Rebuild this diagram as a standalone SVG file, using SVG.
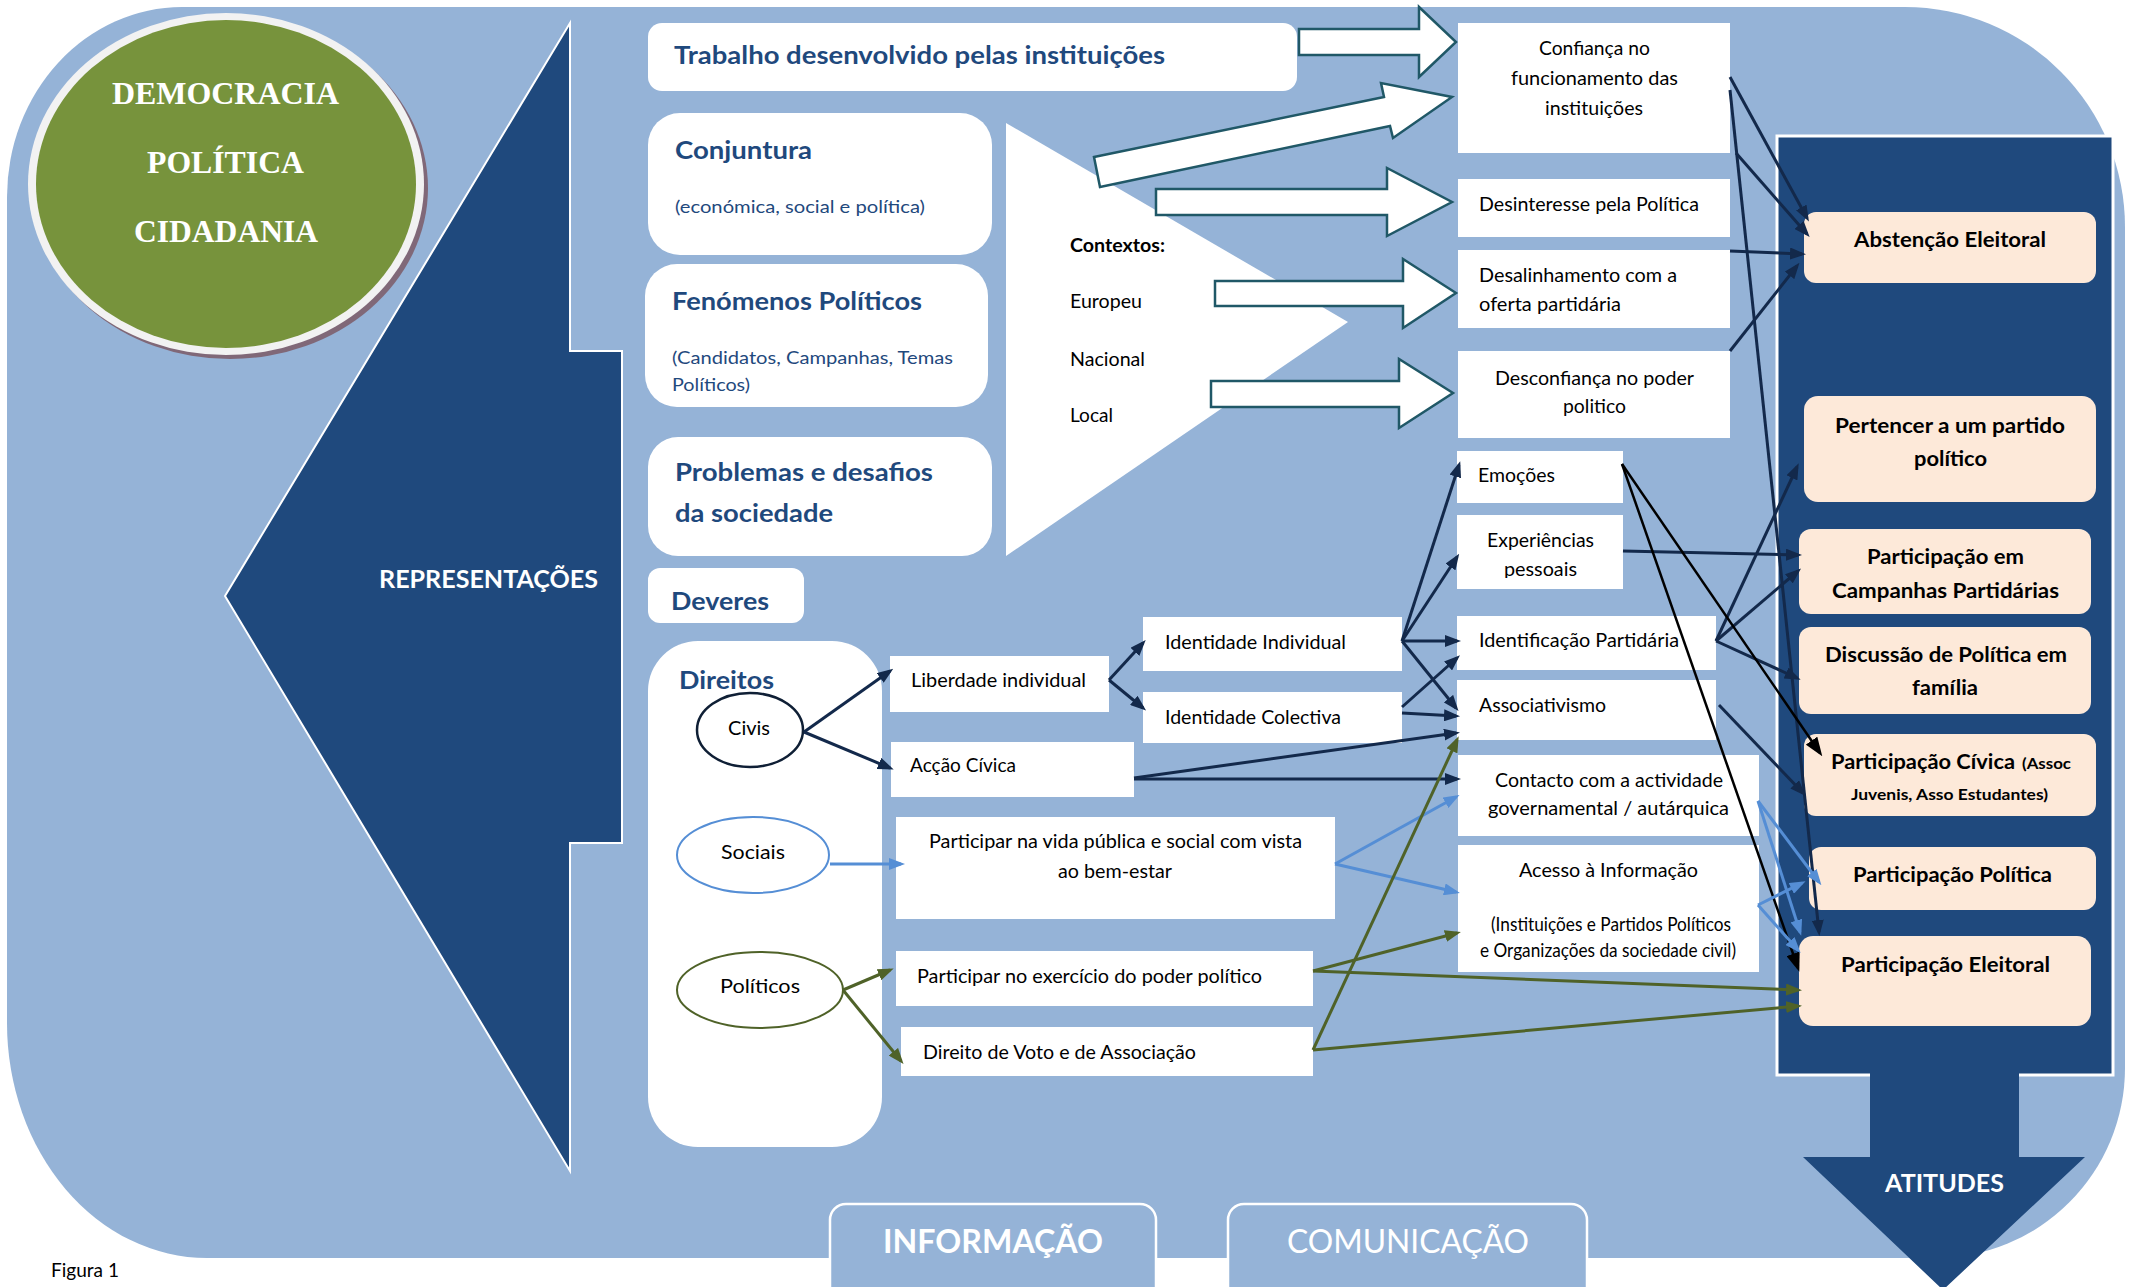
<svg xmlns="http://www.w3.org/2000/svg" width="2140" height="1287" viewBox="0 0 2140 1287">
<defs>
<style>
.f{font-family:Lato,"Liberation Sans",sans-serif}
.r{font-family:Lato,"Liberation Sans",sans-serif;font-size:19px;fill:#000}
.ttl{font-family:Lato,"Liberation Sans",sans-serif;font-size:25px;font-weight:bold;fill:#1F497D}
.sub{font-family:Lato,"Liberation Sans",sans-serif;font-size:18px;fill:#1F497D}
.pb{font-family:Lato,"Liberation Sans",sans-serif;font-size:21px;font-weight:bold;fill:#000}
.ps{font-family:Lato,"Liberation Sans",sans-serif;font-size:16px;font-weight:bold;fill:#000}
.wb{fill:#fff}
.peach{fill:#FDE9D9}
.blk{fill:#fff;stroke:#205867;stroke-width:2.5;stroke-linejoin:miter}
.cn{fill:none;stroke:#13294B;stroke-width:3;marker-end:url(#mN)}
.ck{fill:none;stroke:#000;stroke-width:2.5;marker-end:url(#mK)}
.cb{fill:none;stroke:#558ED5;stroke-width:3;marker-end:url(#mB)}
.co{fill:none;stroke:#4F6228;stroke-width:3;marker-end:url(#mO)}
.serif{font-family:"Liberation Serif",serif;font-size:32px;font-weight:bold;fill:#fff}
</style>
<marker id="mN" markerWidth="16" markerHeight="12" refX="12" refY="6" orient="auto" markerUnits="userSpaceOnUse"><path d="M0,0 L16,6 L0,12 Z" fill="#13294B"/></marker>
<marker id="mK" markerWidth="19" markerHeight="14" refX="15" refY="7" orient="auto" markerUnits="userSpaceOnUse"><path d="M0,0 L19,7 L0,14 Z" fill="#000"/></marker>
<marker id="mB" markerWidth="16" markerHeight="12" refX="12" refY="6" orient="auto" markerUnits="userSpaceOnUse"><path d="M0,0 L16,6 L0,12 Z" fill="#558ED5"/></marker>
<marker id="mO" markerWidth="16" markerHeight="12" refX="12" refY="6" orient="auto" markerUnits="userSpaceOnUse"><path d="M0,0 L16,6 L0,12 Z" fill="#4F6228"/></marker>
<clipPath id="clipExp"><rect x="1457" y="515" width="166" height="63"/></clipPath>
</defs>

<rect x="0" y="0" width="2140" height="1287" fill="#fff"/>

<g id="background">
<path d="M182,7 H1905 A220,220 0 0 1 2125,227 V1068 A190,190 0 0 1 1935,1258 H207 A200,235 0 0 1 7,1023 V197 A175,190 0 0 1 182,7 Z" fill="#95B3D7"/>
</g>

<g id="circle">
<ellipse cx="230" cy="188" rx="198" ry="171" fill="#806878"/>
<ellipse cx="226" cy="184" rx="198" ry="171" fill="#F2F2F2"/>
<ellipse cx="226" cy="184" rx="190" ry="164" fill="#77933C"/>
<text class="serif" x="112" y="104" textLength="227" lengthAdjust="spacingAndGlyphs">DEMOCRACIA</text>
<text class="serif" x="147" y="173" textLength="157" lengthAdjust="spacingAndGlyphs">POLÍTICA</text>
<text class="serif" x="134" y="242" textLength="184" lengthAdjust="spacingAndGlyphs">CIDADANIA</text>
</g>

<g id="representacoes">
<polygon points="225,596 570,23 570,351 622,351 622,843 570,843 570,1171" fill="#1F497D" stroke="#fff" stroke-width="2"/>
<text class="f" x="379" y="588" font-size="25" font-weight="bold" fill="#fff" textLength="219" lengthAdjust="spacingAndGlyphs">REPRESENTAÇÕES</text>
</g>

<g id="contextos">
<polygon points="1006,123 1348,322 1006,556" fill="#fff"/>
<text class="r" x="1070" y="252" font-weight="bold" textLength="95" lengthAdjust="spacingAndGlyphs">Contextos:</text>
<text class="r" x="1070" y="308" textLength="72" lengthAdjust="spacingAndGlyphs">Europeu</text>
<text class="r" x="1070" y="366" textLength="75" lengthAdjust="spacingAndGlyphs">Nacional</text>
<text class="r" x="1070" y="422" textLength="43" lengthAdjust="spacingAndGlyphs">Local</text>
</g>

<g id="trabalho">
<rect x="648" y="23" width="649" height="68" rx="14" class="wb"/>
<text class="ttl" x="674" y="64" textLength="491" lengthAdjust="spacingAndGlyphs">Trabalho desenvolvido pelas instituições</text>
</g>
<g id="conjuntura">
<rect x="648" y="113" width="344" height="142" rx="32" class="wb"/>
<text class="ttl" x="675" y="159" textLength="137" lengthAdjust="spacingAndGlyphs">Conjuntura</text>
<text class="sub" x="675" y="213" textLength="250" lengthAdjust="spacingAndGlyphs">(económica, social e política)</text>
</g>
<g id="fenomenos">
<rect x="645" y="264" width="343" height="143" rx="32" class="wb"/>
<text class="ttl" x="672" y="310" textLength="250" lengthAdjust="spacingAndGlyphs">Fenómenos Políticos</text>
<text class="sub" x="672" y="364" font-size="19" textLength="281" lengthAdjust="spacingAndGlyphs">(Candidatos, Campanhas, Temas</text>
<text class="sub" x="672" y="391" font-size="19" textLength="78" lengthAdjust="spacingAndGlyphs">Políticos)</text>
</g>
<g id="problemas">
<rect x="648" y="437" width="344" height="119" rx="30" class="wb"/>
<text class="ttl" x="675" y="481" textLength="258" lengthAdjust="spacingAndGlyphs">Problemas e desafios</text>
<text class="ttl" x="675" y="522" textLength="158" lengthAdjust="spacingAndGlyphs">da sociedade</text>
</g>
<g id="deveres">
<rect x="648" y="568" width="156" height="55" rx="12" class="wb"/>
<text class="ttl" x="671" y="610" textLength="98" lengthAdjust="spacingAndGlyphs">Deveres</text>
</g>
<g id="direitos">
<rect x="648" y="641" width="234" height="506" rx="50" class="wb"/>
<text class="ttl" x="679" y="689" textLength="95" lengthAdjust="spacingAndGlyphs">Direitos</text>
</g>
<g id="civis">
<ellipse cx="750" cy="730" rx="53" ry="37" fill="#fff" stroke="#0F1F35" stroke-width="2.5"/>
<text class="r" x="728" y="735" font-size="20" textLength="42" lengthAdjust="spacingAndGlyphs">Civis</text>
</g>
<g id="sociais">
<ellipse cx="753" cy="855" rx="76" ry="38" fill="#fff" stroke="#558ED5" stroke-width="2"/>
<text class="r" x="721" y="859" font-size="20" textLength="64" lengthAdjust="spacingAndGlyphs">Sociais</text>
</g>
<g id="politicos">
<ellipse cx="760" cy="990" rx="83" ry="38" fill="#fff" stroke="#4F6228" stroke-width="2"/>
<text class="r" x="720" y="993" font-size="20" textLength="80" lengthAdjust="spacingAndGlyphs">Políticos</text>
</g>

<g id="liberdade">
<rect x="890" y="656" width="219" height="56" class="wb"/>
<text class="r" x="911" y="687" textLength="175" lengthAdjust="spacingAndGlyphs">Liberdade individual</text>
</g>
<g id="id-individual">
<rect x="1143" y="617" width="259" height="54" class="wb"/>
<text class="r" x="1165" y="649" textLength="181" lengthAdjust="spacingAndGlyphs">Identidade Individual</text>
</g>
<g id="id-colectiva">
<rect x="1143" y="692" width="259" height="51" class="wb"/>
<text class="r" x="1165" y="724" textLength="176" lengthAdjust="spacingAndGlyphs">Identidade Colectiva</text>
</g>
<g id="accao-civica">
<rect x="891" y="742" width="243" height="55" class="wb"/>
<text class="r" x="910" y="772" textLength="106" lengthAdjust="spacingAndGlyphs">Acção Cívica</text>
</g>
<g id="vida-publica">
<rect x="896" y="817" width="439" height="102" class="wb"/>
<text class="r" x="929" y="848" textLength="373" lengthAdjust="spacingAndGlyphs">Participar na vida pública e social com vista</text>
<text class="r" x="1058" y="878" textLength="114" lengthAdjust="spacingAndGlyphs">ao bem-estar</text>
</g>
<g id="exercicio">
<rect x="896" y="951" width="417" height="55" class="wb"/>
<text class="r" x="917" y="983" textLength="345" lengthAdjust="spacingAndGlyphs">Participar no exercício do poder político</text>
</g>
<g id="voto">
<rect x="901" y="1027" width="412" height="49" class="wb"/>
<text class="r" x="923" y="1059" textLength="273" lengthAdjust="spacingAndGlyphs">Direito de Voto e de Associação</text>
</g>

<g id="block-arrows">
<polygon class="blk" points="1299,29 1419,29 1419,7 1456,42 1419,77 1419,55 1299,55"/>
<polygon class="blk" points="1094,157 1384,97 1381,83 1452,97 1393,138 1390,126 1100,187"/>
<polygon class="blk" points="1156,189 1387,189 1387,168 1452,202 1387,236 1387,215 1156,215"/>
<polygon class="blk" points="1215,281 1403,281 1403,259 1456,293 1403,328 1403,306 1215,306"/>
<polygon class="blk" points="1211,381 1399,381 1399,359 1453,393 1399,428 1399,407 1211,407"/>
</g>

<g id="confianca">
<rect x="1458" y="23" width="272" height="130" class="wb"/>
<text class="r" x="1539" y="55" textLength="111" lengthAdjust="spacingAndGlyphs">Confiança no</text>
<text class="r" x="1511" y="85" textLength="167" lengthAdjust="spacingAndGlyphs">funcionamento das</text>
<text class="r" x="1545" y="115" textLength="98" lengthAdjust="spacingAndGlyphs">instituições</text>
</g>
<g id="desinteresse">
<rect x="1458" y="179" width="272" height="58" class="wb"/>
<text class="r" x="1479" y="211" textLength="220" lengthAdjust="spacingAndGlyphs">Desinteresse pela Política</text>
</g>
<g id="desalinhamento">
<rect x="1458" y="250" width="272" height="78" class="wb"/>
<text class="r" x="1479" y="282" textLength="198" lengthAdjust="spacingAndGlyphs">Desalinhamento com a</text>
<text class="r" x="1479" y="311" textLength="142" lengthAdjust="spacingAndGlyphs">oferta partidária</text>
</g>
<g id="desconfianca">
<rect x="1458" y="351" width="272" height="87" class="wb"/>
<text class="r" x="1495" y="385" textLength="199" lengthAdjust="spacingAndGlyphs">Desconfiança no poder</text>
<text class="r" x="1563" y="413" textLength="63" lengthAdjust="spacingAndGlyphs">politico</text>
</g>
<g id="emocoes">
<rect x="1457" y="451" width="166" height="52" class="wb"/>
<text class="r" x="1478" y="482" textLength="77" lengthAdjust="spacingAndGlyphs">Emoções</text>
</g>
<g id="experiencias">
<rect x="1457" y="515" width="166" height="74" class="wb"/>
<text class="r" x="1487" y="547" textLength="107" lengthAdjust="spacingAndGlyphs">Experiências</text>
<text class="r" x="1504" y="576" textLength="73" lengthAdjust="spacingAndGlyphs" clip-path="url(#clipExp)">pessoais</text>
</g>
<g id="identificacao">
<rect x="1457" y="616" width="259" height="54" class="wb"/>
<text class="r" x="1479" y="647" textLength="200" lengthAdjust="spacingAndGlyphs">Identificação Partidária</text>
</g>
<g id="associativismo">
<rect x="1457" y="680" width="259" height="60" class="wb"/>
<text class="r" x="1479" y="712" textLength="127" lengthAdjust="spacingAndGlyphs">Associativismo</text>
</g>
<g id="contacto">
<rect x="1458" y="755" width="301" height="81" class="wb"/>
<text class="r" x="1495" y="787" textLength="228" lengthAdjust="spacingAndGlyphs">Contacto com a actividade</text>
<text class="r" x="1488" y="815" textLength="241" lengthAdjust="spacingAndGlyphs">governamental / autárquica</text>
</g>
<g id="acesso">
<rect x="1458" y="845" width="301" height="127" class="wb"/>
<text class="r" x="1519" y="877" textLength="179" lengthAdjust="spacingAndGlyphs">Acesso à Informação</text>
<text class="r" x="1491" y="931" font-size="16" textLength="240" lengthAdjust="spacingAndGlyphs">(Instituições e Partidos Políticos</text>
<text class="r" x="1480" y="957" font-size="16" textLength="256" lengthAdjust="spacingAndGlyphs">e Organizações da sociedade civil)</text>
</g>

<g id="atitudes">
<rect x="1777" y="136" width="336" height="939" fill="#1F497D" stroke="#fff" stroke-width="3"/>
<polygon points="1870,1073 2019,1073 2019,1157 2085,1157 1943,1290 1803,1157 1870,1157" fill="#1F497D"/>
<text class="f" x="1885" y="1192" font-size="24" font-weight="bold" fill="#fff" textLength="119" lengthAdjust="spacingAndGlyphs">ATITUDES</text>
</g>
<g id="abstencao">
<rect x="1804" y="212" width="292" height="71" rx="12" class="peach"/>
<text class="pb" x="1854" y="247" textLength="192" lengthAdjust="spacingAndGlyphs">Abstenção Eleitoral</text>
</g>
<g id="pertencer">
<rect x="1804" y="396" width="292" height="106" rx="14" class="peach"/>
<text class="pb" x="1835" y="433" textLength="230" lengthAdjust="spacingAndGlyphs">Pertencer a um partido</text>
<text class="pb" x="1914" y="466" textLength="73" lengthAdjust="spacingAndGlyphs">político</text>
</g>
<g id="campanhas">
<rect x="1799" y="529" width="292" height="85" rx="12" class="peach"/>
<text class="pb" x="1867" y="564" textLength="157" lengthAdjust="spacingAndGlyphs">Participação em</text>
<text class="pb" x="1832" y="598" textLength="227" lengthAdjust="spacingAndGlyphs">Campanhas Partidárias</text>
</g>
<g id="discussao">
<rect x="1799" y="627" width="292" height="87" rx="12" class="peach"/>
<text class="pb" x="1825" y="662" textLength="242" lengthAdjust="spacingAndGlyphs">Discussão de Política em</text>
<text class="pb" x="1912" y="695" textLength="66" lengthAdjust="spacingAndGlyphs">família</text>
</g>
<g id="civica">
<rect x="1804" y="734" width="292" height="82" rx="12" class="peach"/>
<text class="pb" x="1831" y="769" textLength="184" lengthAdjust="spacingAndGlyphs">Participação Cívica</text>
<text class="ps" x="2022" y="769" textLength="49" lengthAdjust="spacingAndGlyphs">(Assoc</text>
<text class="ps" x="1851" y="800" textLength="197" lengthAdjust="spacingAndGlyphs">Juvenis, Asso Estudantes)</text>
</g>
<g id="politica">
<rect x="1809" y="847" width="287" height="63" rx="12" class="peach"/>
<text class="pb" x="1853" y="882" textLength="199" lengthAdjust="spacingAndGlyphs">Participação Política</text>
</g>
<g id="eleitoral">
<rect x="1799" y="936" width="292" height="90" rx="14" class="peach"/>
<text class="pb" x="1841" y="972" textLength="209" lengthAdjust="spacingAndGlyphs">Participação Eleitoral</text>
</g>

<g id="informacao">
<rect x="830" y="1204" width="326" height="100" rx="16" fill="#95B3D7" stroke="#fff" stroke-width="2.5"/>
<text class="f" x="883" y="1253" font-size="32" font-weight="bold" fill="#fff" textLength="220" lengthAdjust="spacingAndGlyphs">INFORMAÇÃO</text>
</g>
<g id="comunicacao">
<rect x="1228" y="1204" width="359" height="100" rx="16" fill="#95B3D7" stroke="#fff" stroke-width="2.5"/>
<text class="f" x="1287" y="1253" font-size="32" fill="#fff" textLength="242" lengthAdjust="spacingAndGlyphs">COMUNICAÇÃO</text>
</g>

<g id="caption">
<text class="r" x="51" y="1277" font-size="17" textLength="68" lengthAdjust="spacingAndGlyphs">Figura 1</text>
</g>

<g id="connectors">
<path class="cn" d="M804,732 L890,671"/>
<path class="cn" d="M804,732 L890,768"/>
<path class="cn" d="M1109,680 L1143,643"/>
<path class="cn" d="M1109,680 L1143,708"/>
<path class="cn" d="M1402,641 L1459,465"/>
<path class="cn" d="M1402,641 L1457,557"/>
<path class="cn" d="M1402,641 L1457,641"/>
<path class="cn" d="M1402,641 L1456,708"/>
<path class="cn" d="M1402,707 L1457,658"/>
<path class="cn" d="M1402,713 L1456,716"/>
<path class="cn" d="M1134,778 L1456,733"/>
<path class="cn" d="M1134,779 L1457,779"/>
<path class="cn" d="M1730,77 L1807,218"/>
<path class="cn" d="M1736,153 L1807,234"/>
<path class="cn" d="M1730,90 L1819,932"/>
<path class="cn" d="M1730,251 L1802,254"/>
<path class="cn" d="M1730,351 L1797,266"/>
<path class="cn" d="M1716,641 L1797,467"/>
<path class="cn" d="M1716,641 L1798,571"/>
<path class="cn" d="M1716,641 L1797,678"/>
<path class="cn" d="M1623,551 L1798,555"/>
<path class="cn" d="M1719,705 L1803,793"/>
<path class="ck" d="M1622,464 L1820,753"/>
<path class="ck" d="M1622,464 L1798,968"/>
<path class="cb" d="M830,864 L901,864"/>
<path class="cb" d="M1335,864 L1456,797"/>
<path class="cb" d="M1335,864 L1456,892"/>
<path class="cb" d="M1758,801 L1819,882"/>
<path class="cb" d="M1758,801 L1800,932"/>
<path class="cb" d="M1758,905 L1802,883"/>
<path class="cb" d="M1758,905 L1798,950"/>
<path class="co" d="M843,990 L890,970"/>
<path class="co" d="M843,990 L901,1061"/>
<path class="co" d="M1313,1050 L1457,740"/>
<path class="co" d="M1313,1050 L1798,1006"/>
<path class="co" d="M1313,971 L1457,933"/>
<path class="co" d="M1313,971 L1798,990"/>
</g>
</svg>
